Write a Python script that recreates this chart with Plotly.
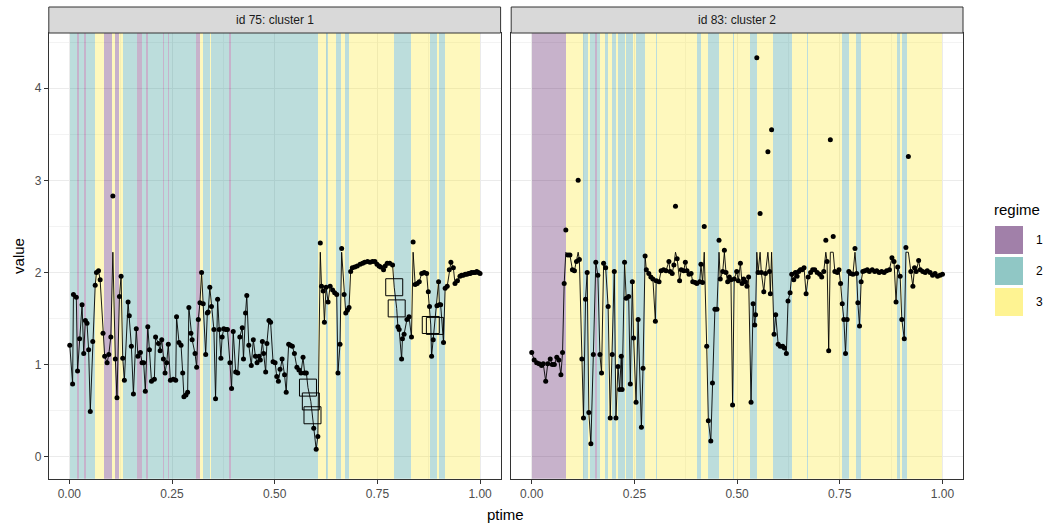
import plotly.graph_objects as go

# ---------------- data ----------------
# panel 1: id 75, cluster 1
p1_t = [0.001,0.008,0.010,0.017,0.020,0.025,0.031,0.035,0.039,0.043,
        0.047,0.051,0.057,0.063,0.066,0.071,0.075,0.082,0.086,0.092,
        0.096,0.101,0.106,0.112,0.116,0.122,0.126,0.130,0.134,0.143,
        0.146,0.151,0.156,0.163,0.167,0.173,0.177,0.181,0.185,0.191,
        0.195,0.200,0.207,0.210,0.217,0.221,0.225,0.229,0.233,0.237,
        0.241,0.246,0.253,0.259,0.261,0.267,0.272,0.276,0.279,0.284,
        0.288,0.291,0.296,0.299,0.306,0.310,0.314,0.318,0.322,0.326,
        0.332,0.336,0.338,0.342,0.346,0.352,0.356,0.361,0.365,0.369,
        0.372,0.376,0.381,0.385,0.391,0.395,0.399,0.405,0.410,0.415,
        0.421,0.424,0.429,0.432,0.437,0.443,0.448,0.453,0.457,0.462,
        0.465,0.470,0.473,0.478,0.481,0.486,0.490,0.496,0.501,0.505,
        0.509,0.513,0.518,0.524,0.528,0.534,0.538,0.543,0.548,0.554,
        0.559,0.564,0.569,0.573,0.577,0.595,0.601,0.605,0.611,0.614,
        0.618,0.621,0.625,0.630,0.635,0.641,0.646,0.651,0.654,0.659,
        0.663,0.669,0.673,0.677,0.681,0.685,0.689,0.695,0.701,0.708,
        0.714,0.719,0.726,0.732,0.738,0.744,0.749,0.754,0.758,0.765,
        0.769,0.774,0.780,0.787,0.800,0.803,0.809,0.811,0.815,0.822,
        0.827,0.833,0.837,0.842,0.847,0.852,0.858,0.864,0.870,0.874,
        0.877,0.882,0.886,0.895,0.899,0.901,0.904,0.911,0.915,0.920,
        0.925,0.929,0.935,0.939,0.945,0.951,0.955,0.959,0.964,0.968,
        0.972,0.976,0.979,0.984,0.988,0.992,0.996,1.000]
p1_v = [1.21,0.79,1.76,1.73,0.93,1.28,1.65,1.12,1.48,1.45,
        1.16,0.49,1.25,1.86,2.00,2.02,1.92,1.34,1.09,1.02,
        1.11,1.30,2.83,1.06,0.64,1.74,1.96,1.07,0.83,1.68,
        1.53,1.20,0.68,1.39,1.09,1.13,1.02,1.02,0.71,1.41,
        1.16,0.82,0.84,1.30,1.23,1.15,1.27,1.06,0.91,1.02,
        1.22,0.83,0.84,0.83,1.52,1.24,1.21,0.91,0.65,0.67,
        0.70,1.62,1.34,1.27,1.12,0.97,1.49,1.67,2.00,1.66,
        1.11,1.56,1.57,1.84,1.63,1.38,0.63,1.71,1.38,1.07,
        1.30,1.39,1.38,1.38,1.02,0.74,1.36,0.92,0.91,1.30,
        1.40,1.06,1.56,1.75,1.21,0.99,1.27,1.09,1.02,1.09,
        1.05,1.25,1.12,0.92,1.23,1.48,1.46,1.03,1.02,0.87,
        0.82,0.95,1.06,0.89,0.70,1.22,1.21,1.20,1.12,0.97,
        0.94,0.91,1.08,0.91,0.91,0.31,0.08,0.22,2.32,1.85,
        1.80,1.46,1.84,1.68,1.85,1.81,1.78,1.76,0.91,1.22,
        2.26,1.76,1.56,1.59,1.62,2.01,2.05,2.06,2.07,2.09,
        2.10,2.11,2.12,2.11,2.12,2.12,2.09,2.07,2.06,2.03,
        2.07,2.10,2.10,2.08,1.41,1.38,1.06,1.28,1.33,1.49,
        1.52,1.30,2.33,1.87,1.88,1.90,1.99,2.00,1.99,1.79,
        1.63,1.09,1.27,1.64,1.90,1.65,1.65,1.24,1.83,1.85,
        2.03,2.11,2.05,1.88,1.91,1.96,1.97,1.97,1.98,1.98,
        1.99,1.99,2.00,2.00,2.00,2.01,2.00,1.99]
p1_sq_t = [0.581, 0.588, 0.592, 0.791, 0.797, 0.880, 0.890]
p1_sq_v = [0.75, 0.60, 0.45, 1.84, 1.61, 1.43, 1.42]
p1_breaks = [0.000,0.019,0.024,0.036,0.041,0.062,0.084,0.104,0.111,0.120,
             0.130,0.164,0.176,0.186,0.191,0.227,0.230,0.239,0.242,0.307,
             0.317,0.324,0.341,0.344,0.389,0.392,0.605,0.624,0.629,0.648,
             0.660,0.670,0.680,0.791,0.832,0.878,0.895,0.900,0.915,1.000]
p1_regime = [2,1,2,1,2,3,1,3,1,3,
             2,1,2,1,2,1,2,1,2,1,
             3,2,3,2,1,2,3,2,3,2,
             3,2,3,2,3,2,3,2,3]

# panel 2: id 83, cluster 2
p2_t = [0.000,0.006,0.012,0.018,0.024,0.028,0.034,0.039,0.045,0.050,
        0.055,0.061,0.066,0.071,0.075,0.079,0.083,0.088,0.093,0.099,
        0.104,0.109,0.113,0.116,0.122,0.126,0.131,0.135,0.139,0.144,
        0.150,0.156,0.161,0.166,0.170,0.175,0.180,0.186,0.191,0.196,
        0.201,0.205,0.210,0.214,0.218,0.220,0.226,0.230,0.236,0.240,
        0.245,0.248,0.254,0.259,0.267,0.271,0.276,0.279,0.285,0.290,
        0.295,0.301,0.303,0.310,0.315,0.321,0.327,0.334,0.337,0.342,
        0.346,0.350,0.354,0.360,0.364,0.370,0.374,0.378,0.383,0.388,
        0.392,0.398,0.402,0.409,0.412,0.416,0.420,0.426,0.430,0.436,
        0.440,0.446,0.451,0.456,0.459,0.465,0.469,0.473,0.477,0.481,
        0.485,0.489,0.493,0.499,0.503,0.508,0.512,0.516,0.520,0.524,
        0.528,0.534,0.539,0.543,0.545,0.548,0.551,0.556,0.559,0.565,
        0.569,0.575,0.579,0.581,0.584,0.590,0.594,0.600,0.605,0.611,
        0.615,0.620,0.624,0.629,0.633,0.638,0.642,0.646,0.650,0.654,
        0.658,0.663,0.668,0.673,0.679,0.684,0.689,0.695,0.701,0.706,
        0.711,0.716,0.719,0.723,0.727,0.734,0.738,0.744,0.748,0.752,
        0.756,0.760,0.764,0.768,0.772,0.776,0.782,0.787,0.791,0.794,
        0.798,0.802,0.806,0.811,0.817,0.822,0.829,0.835,0.840,0.846,
        0.852,0.858,0.864,0.871,0.877,0.882,0.887,0.891,0.897,0.901,
        0.907,0.911,0.917,0.923,0.928,0.932,0.936,0.942,0.946,0.952,
        0.958,0.963,0.970,0.976,0.982,0.988,0.994,1.000]
p2_v = [1.13,1.05,1.02,1.01,0.99,1.01,0.82,1.01,1.06,1.00,
        1.00,1.08,1.05,0.89,1.13,1.88,2.46,2.19,2.19,2.03,
        2.02,2.12,3.00,2.14,1.06,0.42,1.71,2.00,0.48,0.14,
        1.11,2.11,1.97,1.11,0.91,2.10,2.05,1.63,0.42,1.11,
        2.01,0.42,0.98,0.73,1.09,0.73,2.11,1.72,1.74,0.79,
        1.90,1.29,0.59,1.49,0.32,0.96,2.18,2.03,1.99,1.95,
        1.93,1.47,1.91,1.90,2.02,2.03,2.02,2.12,2.01,1.99,
        2.08,2.72,2.15,1.91,2.03,2.02,2.11,2.02,1.98,1.99,
        1.90,1.89,1.88,1.90,2.09,1.89,2.50,1.20,0.39,0.17,
        0.80,1.60,1.60,2.35,1.93,2.01,2.24,2.00,1.90,1.95,
        1.92,0.56,1.93,2.01,1.91,2.10,1.88,1.93,1.90,1.85,
        1.95,0.59,1.66,1.43,1.54,4.33,2.00,2.64,2.00,1.79,
        1.99,3.31,2.01,1.77,3.55,1.33,1.54,1.22,1.20,1.20,
        1.18,1.12,1.69,1.78,1.98,1.92,2.00,1.96,2.01,2.03,
        2.03,2.05,1.77,1.95,2.00,2.03,2.03,2.00,1.98,1.95,
        2.01,2.35,2.12,1.15,3.44,2.39,2.01,2.00,2.03,1.88,
        1.66,1.49,1.12,1.49,2.01,1.99,1.98,2.26,1.99,1.67,
        1.42,1.90,2.01,2.02,2.03,2.01,2.03,2.01,2.02,2.00,
        2.01,2.00,2.02,2.03,2.16,2.12,1.68,2.06,1.96,1.49,
        1.28,2.27,3.26,2.01,1.85,2.05,2.01,2.13,2.03,2.01,
        2.00,2.02,2.00,1.97,1.99,1.96,1.97,1.98]
p2_sq_t = []
p2_sq_v = []
p2_breaks = [0.000,0.083,0.125,0.137,0.142,0.154,0.159,0.166,0.178,0.185,
             0.195,0.205,0.210,0.227,0.229,0.246,0.254,0.276,0.302,0.305,
             0.404,0.412,0.429,0.456,0.490,0.494,0.533,0.548,0.589,0.633,
             0.670,0.672,0.728,0.730,0.757,0.774,0.791,0.801,0.889,0.896,
             0.901,0.913,1.000]
p2_regime = [1,3,2,3,2,1,2,3,2,3,
             2,3,2,3,2,3,2,3,2,3,
             2,3,2,3,2,3,2,3,2,3,
             2,3,2,3,2,3,2,3,2,3,
             2,3]

LINE_CAP = 2.22
regime_labels = ["1", "2", "3"]
panel_titles = ["id 75: cluster 1", "id 83: cluster 2"]
x_ticks = [0, 0.25, 0.5, 0.75, 1.0]
y_ticks = [0, 1, 2, 3, 4]
Y_RANGE = [-0.24, 4.60]

# ---------------- styling ----------------
W, H = 1058, 527
FONT = "Liberation Sans, Arial, sans-serif"
RGB = {1: (68, 1, 84), 2: (33, 144, 140), 3: (253, 231, 37)}
def rgba(r, a):
    c = RGB[r]
    return f"rgba({c[0]},{c[1]},{c[2]},{a})"

def py(p):  # pixel row -> paper y
    return 1 - p / H

def pxx(p):
    return p / W

PLOT_TOP, PLOT_BOT = 33.0, 478.8
STRIP_TOP = 7.0
P1 = (48.8, 500.6)
P2 = (511.2, 963.0)

fig = go.Figure()

def build_line(t, v, st, sv):
    pts = [(a, min(b, LINE_CAP)) for a, b in zip(t, v)] + list(zip(st, sv))
    pts.sort()
    return [p[0] for p in pts], [p[1] for p in pts]

shapes = []
annotations = []
panels = [
    ("x", "y", p1_t, p1_v, p1_sq_t, p1_sq_v, p1_breaks, p1_regime),
    ("x2", "y2", p2_t, p2_v, p2_sq_t, p2_sq_v, p2_breaks, p2_regime),
]
for i, (xa, ya, t, v, st, sv, br, rg) in enumerate(panels):
    centers = [(br[k] + br[k + 1]) / 2 for k in range(len(rg))]
    widths = [br[k + 1] - br[k] for k in range(len(rg))]
    fig.add_trace(go.Bar(x=centers, width=widths,
                         y=[Y_RANGE[1] - Y_RANGE[0]] * len(rg), base=Y_RANGE[0],
                         marker=dict(color=[rgba(r, 0.3) for r in rg], line=dict(width=0)),
                         xaxis=xa, yaxis=ya, showlegend=False, hoverinfo="skip"))
    lt, lv = build_line(t, v, st, sv)
    fig.add_trace(go.Scatter(x=lt, y=lv, mode="lines", xaxis=xa, yaxis=ya,
                             line=dict(color="black", width=0.9),
                             showlegend=False, hoverinfo="skip"))
    fig.add_trace(go.Scatter(x=t, y=v, mode="markers", xaxis=xa, yaxis=ya,
                             marker=dict(color="black", size=5),
                             showlegend=False))
    if st:
        fig.add_trace(go.Scatter(x=st, y=sv, mode="markers", xaxis=xa, yaxis=ya,
                                 marker=dict(symbol="square-open", size=17,
                                             color="black", line=dict(width=1)),
                                 showlegend=False))
    # strip
    x0, x1 = (P1 if i == 0 else P2)
    shapes.append(dict(type="rect", xref="paper", yref="paper",
                       x0=pxx(x0), x1=pxx(x1), y0=py(PLOT_TOP), y1=py(STRIP_TOP),
                       fillcolor="#D9D9D9", line=dict(color="#333333", width=1)))
    annotations.append(dict(text=panel_titles[i], xref="paper", yref="paper",
                            x=pxx((x0 + x1) / 2), y=py((PLOT_TOP + STRIP_TOP) / 2),
                            xanchor="center", yanchor="middle",
                            showarrow=False, font=dict(size=12, color="#1A1A1A", family=FONT)))

axis_common = dict(showline=True, mirror=True, linecolor="#333333", linewidth=1,
                   showgrid=True, gridcolor="#EBEBEB", gridwidth=1, zeroline=False,
                   tickfont=dict(size=12, color="#4D4D4D", family=FONT))
xminor = dict(tickvals=[0.125, 0.375, 0.625, 0.875], showgrid=True,
              gridcolor="#F3F3F3", gridwidth=0.6, ticks="")
yminor = dict(tickvals=[0.5, 1.5, 2.5, 3.5, 4.5], showgrid=True,
              gridcolor="#F3F3F3", gridwidth=0.6, ticks="")
tick_on = dict(ticks="outside", ticklen=4, tickwidth=1, tickcolor="#333333")

fig.update_layout(
    width=W, height=H, margin=dict(l=0, r=0, t=0, b=0),
    paper_bgcolor="white", plot_bgcolor="white",
    font=dict(family=FONT), barmode="overlay", bargap=0,
    xaxis=dict(domain=[pxx(P1[0]), pxx(P1[1])], range=[-0.05, 1.05], anchor="y",
               tickvals=x_ticks, tickformat=".2f", minor=xminor, **axis_common, **tick_on),
    yaxis=dict(domain=[py(PLOT_BOT), py(PLOT_TOP)], range=Y_RANGE, anchor="x",
               tickvals=y_ticks, minor=yminor, **axis_common, **tick_on),
    xaxis2=dict(domain=[pxx(P2[0]), pxx(P2[1])], range=[-0.05, 1.05], anchor="y2",
                tickvals=x_ticks, tickformat=".2f", minor=xminor, **axis_common, **tick_on),
    yaxis2=dict(domain=[py(PLOT_BOT), py(PLOT_TOP)], range=Y_RANGE, anchor="x2",
                tickvals=y_ticks, minor=yminor, showticklabels=False, ticks="",
                **axis_common),
)

# axis titles
annotations.append(dict(text="ptime", xref="paper", yref="paper",
                        x=pxx((P1[0] + P2[1]) / 2), y=py(514), showarrow=False,
                        xanchor="center", yanchor="middle",
                        font=dict(size=15, color="black", family=FONT)))
annotations.append(dict(text="value", xref="paper", yref="paper",
                        x=pxx(19), y=py((PLOT_TOP + PLOT_BOT) / 2), showarrow=False,
                        xanchor="center", yanchor="middle",
                        textangle=-90, font=dict(size=15, color="black", family=FONT)))

# legend (drawn manually)
annotations.append(dict(text="regime", xref="paper", yref="paper", x=pxx(992), y=py(210),
                        xanchor="left", yanchor="middle", showarrow=False,
                        font=dict(size=15, color="black", family=FONT)))
sw_tops = [226, 257, 288]
for r, top, lab in zip([1, 2, 3], sw_tops, regime_labels):
    shapes.append(dict(type="rect", xref="paper", yref="paper",
                       x0=pxx(995), x1=pxx(1023), y0=py(top + 28), y1=py(top),
                       fillcolor=rgba(r, 0.5), line=dict(width=0)))
    annotations.append(dict(text=lab, xref="paper", yref="paper", x=pxx(1034),
                            y=py(top + 14), xanchor="left", yanchor="middle", showarrow=False,
                            font=dict(size=12, color="black", family=FONT)))

fig.update_layout(shapes=shapes, annotations=annotations)
fig.write_html("out.html", config={"displayModeBar": False},
               post_script="document.body.style.margin='0';document.body.style.overflow='hidden';")
